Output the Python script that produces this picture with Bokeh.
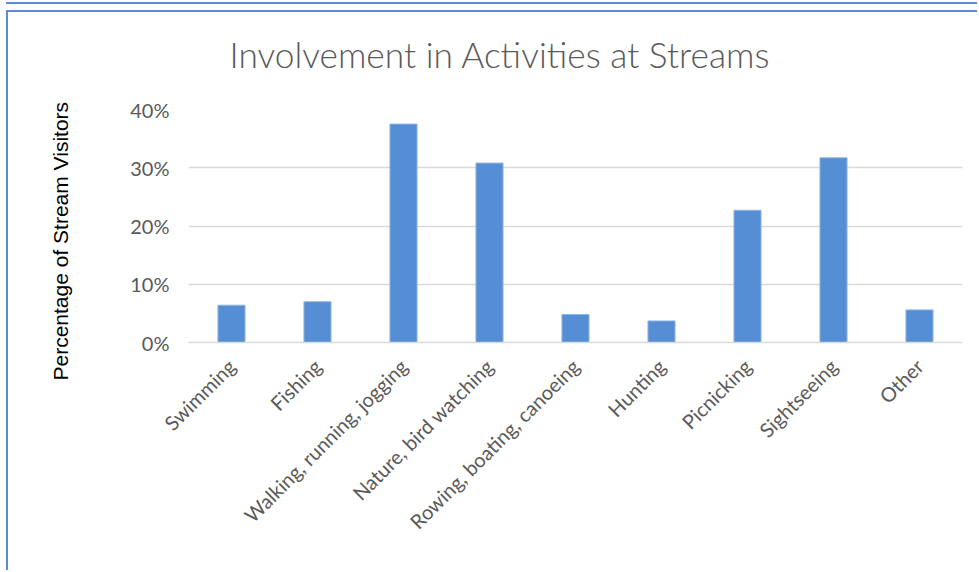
import math
from bokeh.plotting import figure
from bokeh.models import Range1d, FixedTicker, PrintfTickFormatter, Title, ColumnDataSource
from bokeh.embed import file_html
from bokeh.resources import INLINE

# ---- data ----
categories = ["Swimming", "Fishing", "Walking, running, jogging", "Nature, bird watching",
              "Rowing, boating, canoeing", "Hunting", "Picnicking", "Sightseeing", "Other"]
percentages = [6.4, 7.0, 37.5, 30.8, 4.8, 3.7, 22.7, 31.7, 5.6]
y_ticks = [0, 10, 20, 30, 40]
title_text = "Involvement in Activities at Streams"
y_label = "Percentage of Stream Visitors"

source = ColumnDataSource(dict(cat=categories, pct=percentages))

p = figure(x_range=categories, y_range=Range1d(0, 40),
           frame_width=774, frame_height=233,
           min_border_left=180, min_border_right=15,
           min_border_top=97, min_border_bottom=228,
           output_backend="svg", toolbar_location=None,
           background_fill_color="white", border_fill_color="white")
p.outline_line_color = None

p.vbar(x="cat", top="pct", width=0.315, source=source,
       fill_color="#558ED5", line_color="#8FB4E6", line_width=1)

# y axis
p.yaxis.ticker = FixedTicker(ticks=y_ticks)
p.yaxis.formatter = PrintfTickFormatter(format="%d%%")
p.yaxis.axis_line_color = None
p.yaxis.major_tick_line_color = None
p.yaxis.minor_tick_line_color = None
p.yaxis.major_label_text_font = "Lato"
p.yaxis.major_label_text_font_size = "20px"
p.yaxis.major_label_text_color = "#595959"
p.yaxis.major_label_standoff = 13
p.yaxis.axis_label = " "
p.yaxis.axis_label_text_font_size = "10px"
p.yaxis.axis_label_standoff = 37

# x axis
p.xaxis.axis_line_color = "#D9D9D9"
p.xaxis.axis_line_width = 1.5
p.xaxis.major_tick_line_color = None
p.xaxis.minor_tick_line_color = None
p.xaxis.major_label_orientation = math.pi / 4
p.xaxis.major_label_text_font = "Lato"
p.xaxis.major_label_text_font_size = "20px"
p.xaxis.major_label_text_color = "#595959"
p.xaxis.major_label_standoff = 14

p.xgrid.grid_line_color = None
p.ygrid.grid_line_color = "#D9D9D9"
p.ygrid.grid_line_width = 1.5

p.title.text = ""

# spacer between frame and title
p.add_layout(Title(text=" ", text_font_size="16px", text_color="#FFFFFF"), "above")

p.add_layout(Title(text=title_text, align="left", offset=41,
                   text_font="'Lato Light', Lato", text_font_size="35.3px",
                   text_color="#595959", text_font_style="normal"), "above")

p.add_layout(Title(text=y_label, align="left", offset=-38,
                   text_font="Liberation Sans", text_font_size="21px",
                   text_color="#000000", text_font_style="normal"), "left")

p.styles = {"margin-left": "6px", "margin-top": "10px",
            "border-left": "2px solid #5B8BD4", "border-top": "2px solid #5B8BD4",
            "box-shadow": "0 -6px 0 0 #FFFFFF, 0 -8px 0 0 #5B8BD4"}

open("out.html", "w").write(file_html(p, INLINE))
